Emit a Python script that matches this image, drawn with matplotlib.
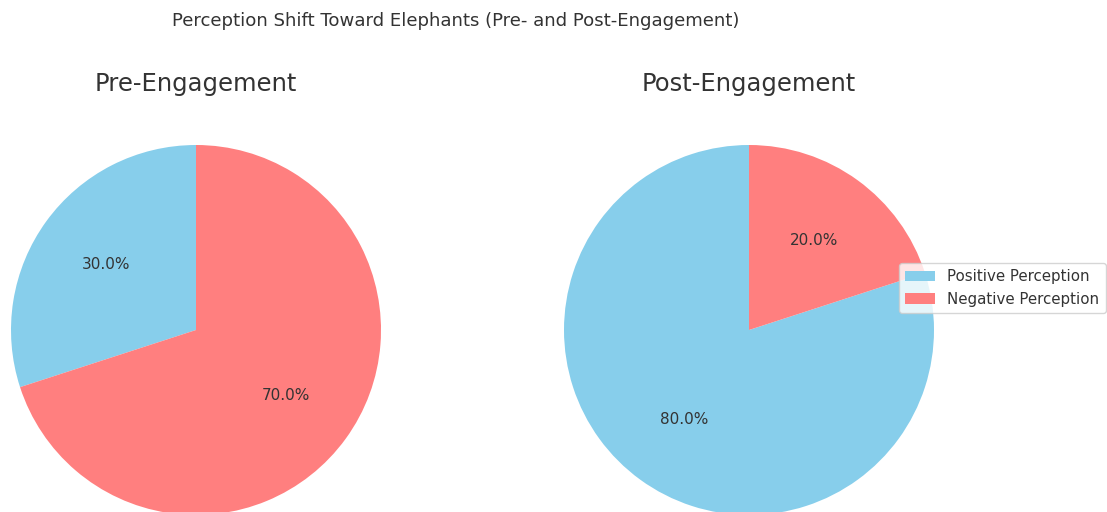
import matplotlib
matplotlib.use("Agg")
import matplotlib.pyplot as plt

plt.rcParams["font.family"] = ["DejaVu Sans"]

labels = ["Positive Perception", "Negative Perception"]
pre_values = [30, 70]
post_values = [80, 20]
colors = ["#87CEEB", "#FF7F7F"]
titles = ["Pre-Engagement", "Post-Engagement"]
suptitle = "Perception Shift Toward Elephants (Pre- and Post-Engagement)"

W, H = 1107, 512
fig = plt.figure(figsize=(W / 100, H / 100), dpi=100)
txt = "#333333"

R = 185
centers = [(196, 330), (749, 330)]
axes = []
for (cx, cy) in centers:
    ax = fig.add_axes([(cx - R) / W, (H - cy - R) / H, 2 * R / W, 2 * R / H])
    axes.append(ax)

for ax, vals, t, (cx, cy) in zip(axes, [pre_values, post_values], titles, centers):
    wedges, texts, autotexts = ax.pie(vals, colors=colors, autopct="%1.1f%%",
                                      startangle=90, counterclock=True,
                                      textprops={"color": txt, "fontsize": 11})
    ax.set_xlim(-1, 1)
    ax.set_ylim(-1, 1)
    ax.set_aspect("equal")
    ax.set_axis_off()
    fig.text(cx / W, 1 - 84 / H, t, ha="center", va="center", fontsize=17.5, color=txt)

fig.text(456 / W, 1 - 21 / H, suptitle, ha="center", va="center", fontsize=13.1, color=txt)

fig.legend(wedges, labels, loc="center right", bbox_to_anchor=(1113 / W, 1 - 288 / H),
           fontsize=10.8, frameon=True, labelcolor=txt)

fig.savefig("out.png", dpi=100)
